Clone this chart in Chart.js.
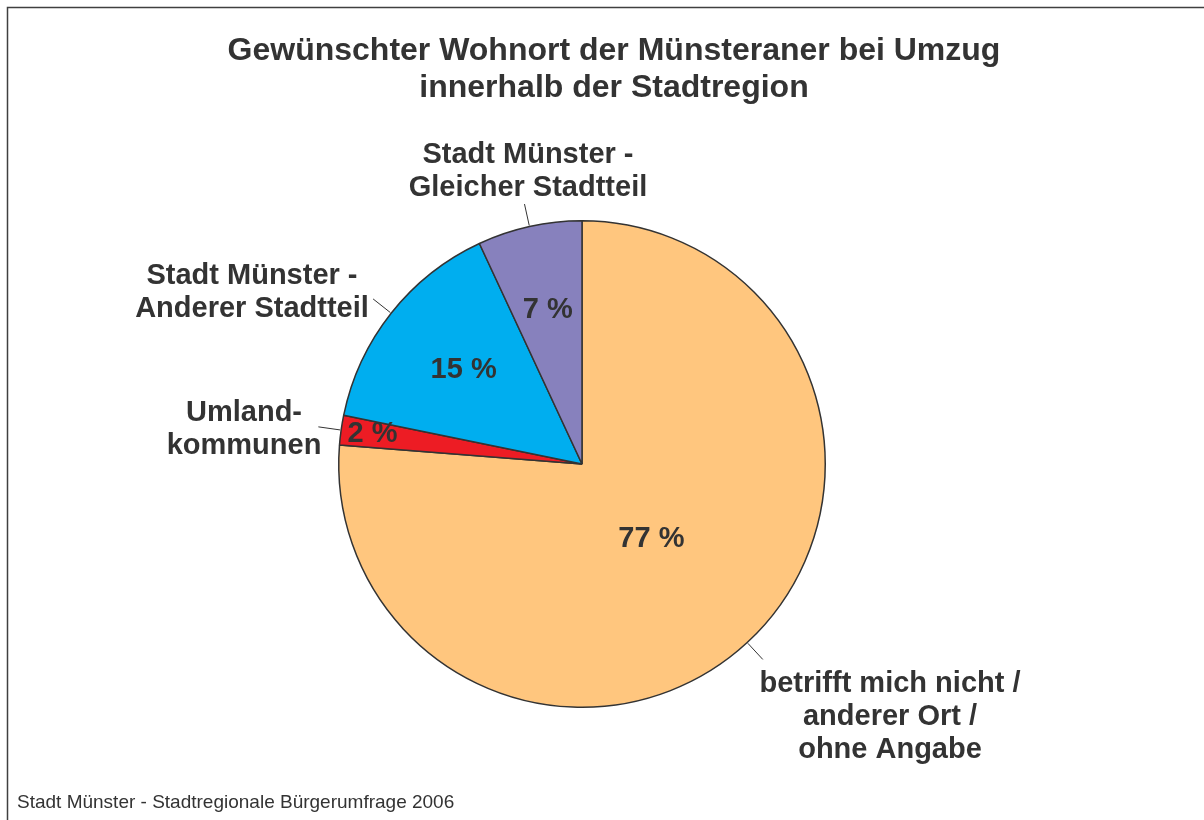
<!DOCTYPE html>
<html>
<head>
<meta charset="utf-8">
<script src="https://cdn.jsdelivr.net/npm/chart.js@4"></script>
<style>
  html, body { margin: 0; padding: 0; background: #fff; }
  #wrap { position: relative; width: 1204px; height: 820px; }
</style>
</head>
<body>
<div id="wrap"><canvas id="torte"></canvas></div>
<script>
// Daten
const kategorien = [
    'betrifft mich nicht / anderer Ort / ohne Angabe',
    'Umlandkommunen',
    'Stadt Münster - Anderer Stadtteil',
    'Stadt Münster - Gleicher Stadtteil'
];
const etikettZeilen = [
    ['betrifft mich nicht /', 'anderer Ort /', 'ohne Angabe'],
    ['Umland-', 'kommunen'],
    ['Stadt Münster -', 'Anderer Stadtteil'],
    ['Stadt Münster -', 'Gleicher Stadtteil']
];
const anteile = [77, 2, 15, 7];
const farben = ['#FFC67E', '#ED1C24', '#00AEEF', '#8781BD'];

const titelZeilen = ['Gewünschter Wohnort der Münsteraner bei Umzug', 'innerhalb der Stadtregion'];
const quelle = 'Stadt Münster - Stadtregionale Bürgerumfrage 2006';

const textFarbe = '#333333';
const schrift = '"Liberation Sans", Arial, Helvetica, sans-serif';

// Lage der Beschriftungen (Mittelpunkt der Textblöcke) und der Prozentwerte (Anteil vom Radius)
const aussenPos = [
    { x: 890, y: 684 },
    { x: 244, y: 413 },
    { x: 252, y: 276 },
    { x: 528, y: 155 }
];
const innenRadius = [0.42, 0.87, 0.62, 0.65];

const beschriftung = {
    id: 'beschriftung',
    afterDatasetsDraw(chart) {
        const ctx = chart.ctx;
        const arcs = chart.getDatasetMeta(0).data;
        ctx.save();

        // Rahmen
        ctx.strokeStyle = '#404040';
        ctx.lineWidth = 1.5;
        ctx.strokeRect(7.5, 7.5, 1230, 840);

        // Titel
        ctx.fillStyle = textFarbe;
        ctx.textAlign = 'center';
        ctx.textBaseline = 'middle';
        ctx.font = 'bold 32px ' + schrift;
        titelZeilen.forEach((z, i) => ctx.fillText(z, 614, 51 + i * 37));

        // Quelle
        ctx.textAlign = 'left';
        ctx.font = '19px ' + schrift;
        ctx.fillText(quelle, 17, 803);

        arcs.forEach((arc, i) => {
            const p = arc.getProps(['x', 'y', 'startAngle', 'endAngle', 'outerRadius'], true);
            const mitte = (p.startAngle + p.endAngle) / 2;
            const cos = Math.cos(mitte), sin = Math.sin(mitte);

            // Prozentwert
            ctx.textAlign = 'center';
            ctx.font = 'bold 29px ' + schrift;
            const ri = p.outerRadius * innenRadius[i];
            ctx.fillText(anteile[i] + ' %', p.x + cos * ri, p.y + sin * ri);

            // Fuehrungslinie
            ctx.strokeStyle = '#333333';
            ctx.lineWidth = 1;
            ctx.beginPath();
            ctx.moveTo(p.x + cos * (p.outerRadius + 1), p.y + sin * (p.outerRadius + 1));
            ctx.lineTo(p.x + cos * (p.outerRadius + 23), p.y + sin * (p.outerRadius + 23));
            ctx.stroke();

            // Kategorie
            etikettZeilen[i].forEach((z, k) => {
                ctx.fillText(z, aussenPos[i].x, aussenPos[i].y + k * 33);
            });
        });
        ctx.restore();
    }
};

new Chart(document.getElementById('torte'), {
    type: 'pie',
    data: {
        labels: kategorien,
        datasets: [{
            data: anteile,
            backgroundColor: farben,
            borderColor: '#333333',
            borderWidth: 1.5
        }]
    },
    options: {
        responsive: true,
        maintainAspectRatio: false,
        animation: false,
        layout: {
            padding: { left: 338, right: 378, top: 220, bottom: 112 }
        },
        plugins: {
            legend: { display: false },
            tooltip: { enabled: false },
            title: { display: false }
        }
    },
    plugins: [beschriftung]
});
</script>
</body>
</html>
